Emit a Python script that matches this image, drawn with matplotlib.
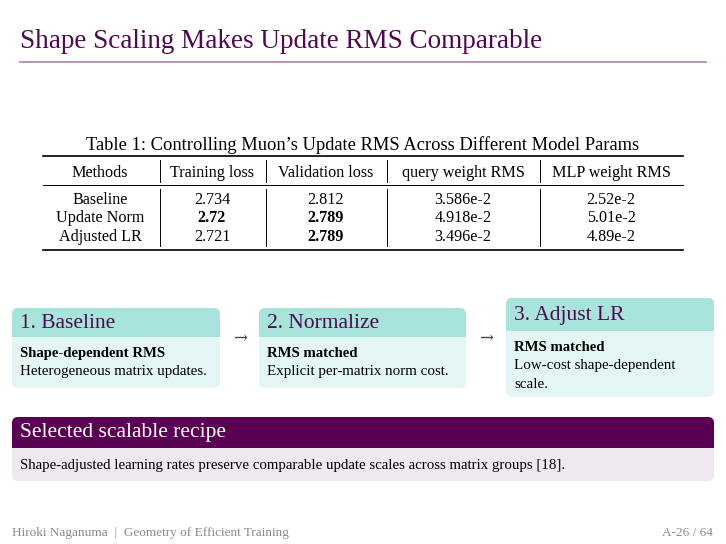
import matplotlib
matplotlib.use("Agg")
from matplotlib import pyplot as plt
from matplotlib.patches import FancyBboxPatch, Rectangle

# ----- slide content -----
slide_title = "Shape Scaling Makes Update RMS Comparable"
table_caption = "Table 1: Controlling Muon\u2019s Update RMS Across Different Model Params"
table_header = ["Methods", "Training loss", "Validation loss", "query weight RMS", "MLP weight RMS"]
methods = ["Baseline", "Update Norm", "Adjusted LR"]
train_loss = ["2.734", "2.72", "2.721"]
val_loss = ["2.812", "2.789", "2.789"]
query_rms = ["3.586e-2", "4.918e-2", "3.496e-2"]
mlp_rms = ["2.52e-2", "5.01e-2", "4.89e-2"]
best_train = [False, True, False]
best_val = [False, True, True]

step_titles = ["1. Baseline", "2. Normalize", "3. Adjust LR"]
step_heads = ["Shape-dependent RMS", "RMS matched", "RMS matched"]
step_texts = [["Heterogeneous matrix updates."],
              ["Explicit per-matrix norm cost."],
              ["Low-cost shape-dependent", "scale."]]

block_title = "Selected scalable recipe"
block_text = "Shape-adjusted learning rates preserve comparable update scales across matrix groups [18]."
footer_left = "Hiroki Naganuma  |  Geometry of Efficient Training"
footer_right = "A-26 / 64"

# ----- colours -----
purple = "#4f0a4f"
rule_purple = "#b58ab5"
teal_head = "#a8e4dc"
teal_body = "#e3f6f3"
block_head = "#5a0052"
block_body = "#efe8f0"
gray = "#8a8a8a"

SERIF = "Liberation Serif"

fig = plt.figure(figsize=(7.26, 5.44), dpi=100)
ax = fig.add_axes([0, 0, 1, 1])
ax.set_xlim(0, 726)
ax.set_ylim(544, 0)
ax.axis("off")


def split_box(x0, x1, y0, ymid, y1, head_col, body_col, r=6):
    # body (full rounded box) + rounded header with square bottom
    ax.add_patch(FancyBboxPatch((x0 + r, y0 + r), x1 - x0 - 2 * r, y1 - y0 - 2 * r,
                                boxstyle=f"round,pad={r}", fc=body_col, ec="none", zorder=1))
    ax.add_patch(FancyBboxPatch((x0 + r, y0 + r), x1 - x0 - 2 * r, ymid - y0 - 2 * r,
                                boxstyle=f"round,pad={r}", fc=head_col, ec="none", zorder=2))
    ax.add_patch(Rectangle((x0, ymid - r - 1), x1 - x0, r + 1, fc=head_col, ec="none", zorder=2))


# title + rule
ax.text(20, 48, slide_title, fontsize=19.5, color=purple, family=SERIF, va="baseline")
ax.plot([20, 706], [61.5, 61.5], color=rule_purple, lw=1.3)

# ----- table -----
ax.text(363, 150, table_caption, fontsize=13.3, family=SERIF, ha="center", va="baseline")
tx0, tx1 = 43, 683
ax.plot([tx0, tx1], [156, 156], color="black", lw=1.2)
ax.plot([tx0, tx1], [185, 185], color="black", lw=0.7)
ax.plot([tx0, tx1], [250, 250], color="black", lw=1.2)

col_x = [100, 212, 326, 463, 611]
sep_x = [160, 266, 387, 540]
for sx in sep_x:
    ax.plot([sx, sx], [160, 182], color="black", lw=0.7)
    ax.plot([sx, sx], [189, 246], color="black", lw=0.7)

for cx, h in zip(col_x, table_header):
    ax.text(cx, 177, h, fontsize=11.6, family=SERIF, ha="center", va="baseline")

row_y = [204, 222, 241]
for i, y in enumerate(row_y):
    cells = [methods[i], train_loss[i], val_loss[i], query_rms[i], mlp_rms[i]]
    bold = [False, best_train[i], best_val[i], False, False]
    for cx, c, b in zip(col_x, cells, bold):
        ax.text(cx, y, c, fontsize=11.6, family=SERIF, ha="center", va="baseline",
                weight="bold" if b else "normal")

# ----- process boxes -----
boxes = [(12, 220, 308, 337, 388), (259, 466, 308, 337, 388), (506, 714, 298, 331, 397)]
for (x0, x1, y0, ym, y1), ttl, hd, lines in zip(boxes, step_titles, step_heads, step_texts):
    split_box(x0, x1, y0, ym, y1, teal_head, teal_body)
    ax.text(x0 + 8, (y0 + ym) / 2 + 1, ttl, fontsize=15.5, color=purple, family=SERIF,
            va="center", zorder=3)
    ax.text(x0 + 8, ym + 20, hd, fontsize=10.6, family=SERIF, weight="bold",
            va="baseline", zorder=3)
    for k, ln in enumerate(lines):
        ax.text(x0 + 8, ym + 38 + 18.5 * k, ln, fontsize=10.8, family=SERIF,
                va="baseline", zorder=3)

for ax_x in [240, 486]:
    ax.text(ax_x, 339, "\u2192", fontsize=12, color="#444444", family="DejaVu Serif",
            ha="center", va="center")

# ----- block -----
split_box(12, 714, 417, 448, 481, block_head, block_body)
ax.text(20, 433, block_title, fontsize=15.5, color="white", family=SERIF, va="center", zorder=3)
ax.text(20, 469, block_text, fontsize=10.75, family=SERIF, va="baseline", zorder=3)

# ----- footer -----
ax.text(12, 536, footer_left, fontsize=9.5, color=gray, family=SERIF, va="baseline")
ax.text(713, 536, footer_right, fontsize=9.5, color=gray, family=SERIF, ha="right", va="baseline")

fig.savefig("out.png", dpi=100, facecolor="white")
